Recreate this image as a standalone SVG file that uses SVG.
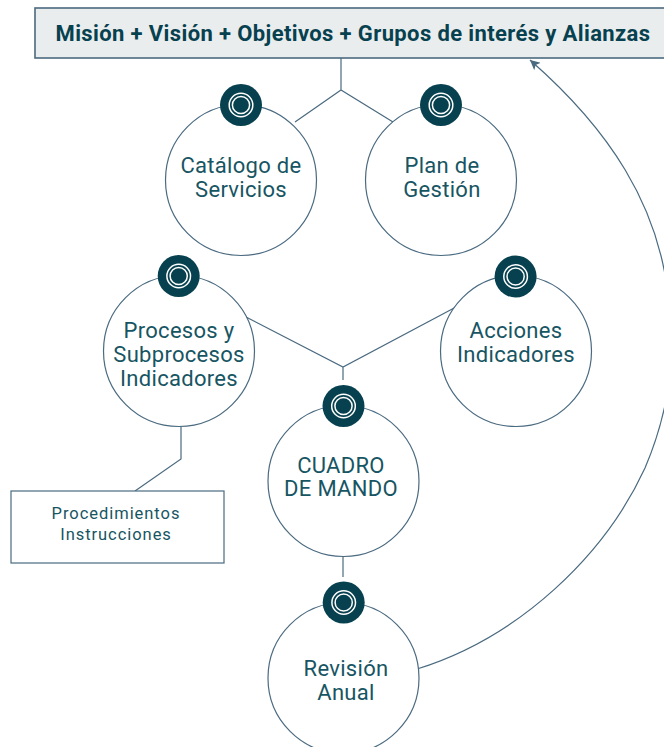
<svg xmlns="http://www.w3.org/2000/svg" width="664" height="747" viewBox="0 0 664 747">
<defs>
<marker id="arrow" markerWidth="12" markerHeight="10" refX="11" refY="5" orient="auto" markerUnits="userSpaceOnUse"><path d="M1 0 L11 5 L1 10 L3.5 5 Z" fill="#4a6a80"/></marker>
<g id="badge"><circle r="21" fill="#07414f"/><circle r="11.8" fill="none" stroke="#fff" stroke-width="1.5"/><circle r="8.6" fill="none" stroke="#fff" stroke-width="1.5"/></g>
</defs>
<style>
.c{fill:#fff;stroke:#4a6a80;stroke-width:1.2}
.l{fill:none;stroke:#4a6a80;stroke-width:1.2}
text{font-family:"Roboto","Liberation Sans",sans-serif;fill:#175563;text-anchor:middle}
.n{font-size:22px;letter-spacing:.3px}
.s{font-size:16.5px;letter-spacing:.95px}
.t{font-size:22px;font-weight:700;fill:#07414f;letter-spacing:.38px}
</style>
<rect width="664" height="747" fill="#fff"/>
<g id="header"><rect x="35" y="8" width="640" height="50" fill="#eaeded" stroke="#4a6a80" stroke-width="1.6"/><text class="t" x="353" y="41">Misión + Visión + Objetivos + Grupos de interés y Alianzas</text></g>
<g id="connectors">
<path class="l" d="M341 58V90M295 122L341 90L393 122"/>
<path class="l" d="M246 317L343 367L456 307M343 367V380"/>
<path class="l" d="M181 426V459L135 491"/>
<path class="l" d="M343 556V577"/>
<path class="l" d="M417 669C520 637 605 555 645 468C672 405 678 335 668 295C658 205 610 130 530 60" marker-end="url(#arrow)"/>
</g>
<g id="catalogo"><circle class="c" cx="241" cy="180" r="75.5"/><use href="#badge" x="241" y="105"/><text class="n" x="241" y="173">Catálogo de</text><text class="n" x="241" y="197">Servicios</text></g>
<g id="plan"><circle class="c" cx="441" cy="180" r="75.5"/><use href="#badge" x="441" y="105"/><text class="n" x="442" y="173">Plan de</text><text class="n" x="442" y="197">Gestión</text></g>
<g id="procesos"><circle class="c" cx="179" cy="351" r="75.5"/><use href="#badge" x="178.7" y="276"/><text class="n" x="179" y="338">Procesos y</text><text class="n" x="179" y="362">Subprocesos</text><text class="n" x="179" y="386">Indicadores</text></g>
<g id="acciones"><circle class="c" cx="516" cy="351" r="75.5"/><use href="#badge" x="515.6" y="276.5"/><text class="n" x="516" y="338">Acciones</text><text class="n" x="516" y="362">Indicadores</text></g>
<g id="cuadro"><circle class="c" cx="343.5" cy="481" r="75.5"/><use href="#badge" x="343.5" y="406"/><text class="n" x="341" y="473">CUADRO</text><text class="n" x="341" y="496">DE MANDO</text></g>
<g id="revision"><circle class="c" cx="343.5" cy="678" r="75.5"/><use href="#badge" x="343.7" y="602.5"/><text class="n" x="346" y="676">Revisión</text><text class="n" x="346" y="700">Anual</text></g>
<g id="procedimientos"><rect x="11" y="491" width="213" height="72" fill="#fff" stroke="#4a6a80" stroke-width="1.2"/><text class="s" x="116" y="519">Procedimientos</text><text class="s" x="116" y="540">Instrucciones</text></g>
</svg>
